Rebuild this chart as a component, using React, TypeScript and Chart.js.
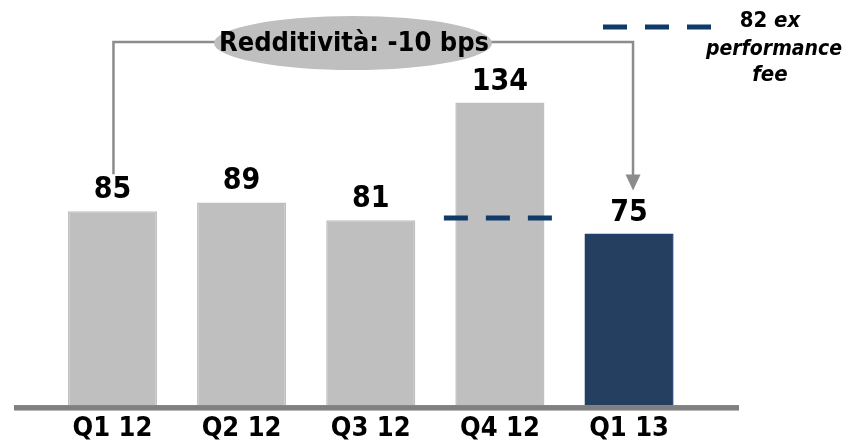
import React, { useEffect, useRef } from "react";
import { Chart, registerables } from "chart.js";

Chart.register(...registerables);

const categories = ["Q1 12", "Q2 12", "Q3 12", "Q4 12", "Q1 13"];
const values = [85, 89, 81, 134, 75];
const barColors = ["#bfbfbf", "#bfbfbf", "#bfbfbf", "#bfbfbf", "#243f60"];
const barBorders = ["#bfbfbf", "#bfbfbf", "#bfbfbf", "#bfbfbf", "#1f3f6e"];
const exPerfFeeValue = 82;
const exPerfFeeIndex = 3;
const bracketText = "Redditività: -10 bps";
const legendNumber = "82";
const legendLines = [" ex", "performance", "fee"];

const Y_MIN = -2.5;
const Y_MAX = 160;
const FONT = "'DejaVu Sans Condensed', 'DejaVu Sans', sans-serif";
const NAVY = "#0f3a69";
const GREY_LINE = "#8c8c8c";

const overlay = {
  id: "overlay",
  afterDatasetsDraw(chart: any) {
    const ctx = chart.ctx as CanvasRenderingContext2D;
    const xs = chart.scales.x;
    const ys = chart.scales.y;
    ctx.save();

    // baseline axis
    const yb = ys.getPixelForValue(Y_MIN);
    ctx.fillStyle = "#808080";
    ctx.fillRect(14, yb - 0.5, 725, 5.5);

    // category labels
    ctx.fillStyle = "#000";
    ctx.textAlign = "center";
    ctx.textBaseline = "alphabetic";
    ctx.font = `bold 27px ${FONT}`;
    categories.forEach((c, i) => {
      ctx.fillText(c, xs.getPixelForValue(i), 436);
    });

    // value labels
    ctx.font = `bold 30px ${FONT}`;
    const labelTops: number[] = [];
    values.forEach((v, i) => {
      const top = ys.getPixelForValue(v);
      ctx.fillText(String(v), xs.getPixelForValue(i), top - 13);
      labelTops.push(top - 13 - 22);
    });

    // dashed ex-performance-fee line on Q4
    const drawDash = (x0: number, x1: number, y: number) => {
      ctx.save();
      ctx.strokeStyle = NAVY;
      ctx.lineWidth = 5;
      ctx.setLineDash([24, 18]);
      ctx.beginPath();
      ctx.moveTo(x0, y);
      ctx.lineTo(x1, y);
      ctx.stroke();
      ctx.restore();
    };
    const cx = xs.getPixelForValue(exPerfFeeIndex);
    drawDash(cx - 56, cx + 52, ys.getPixelForValue(exPerfFeeValue));

    // legend
    drawDash(603, 711, 27);
    ctx.fillStyle = "#000";
    ctx.font = `bold 22px ${FONT}`;
    const wNum = ctx.measureText(legendNumber).width;
    ctx.font = `italic bold 22px ${FONT}`;
    const wEx = ctx.measureText(legendLines[0]).width;
    const lx = 770;
    const startX = lx - (wNum + wEx) / 2;
    ctx.textAlign = "left";
    ctx.font = `bold 22px ${FONT}`;
    ctx.fillText(legendNumber, startX, 27);
    ctx.font = `italic bold 22px ${FONT}`;
    ctx.fillText(legendLines[0], startX + wNum, 27);
    ctx.textAlign = "center";
    ctx.font = `italic bold 21px ${FONT}`;
    ctx.fillText(legendLines[1], lx + 4, 55);
    ctx.font = `italic bold 22px ${FONT}`;
    ctx.fillText(legendLines[2], lx, 81);

    // bracket
    const topY = 42;
    const xl = xs.getPixelForValue(0) + 1;
    const xr = xs.getPixelForValue(values.length - 1) + 4;
    const tip = labelTops[values.length - 1] - 8;
    ctx.strokeStyle = GREY_LINE;
    ctx.lineWidth = 2.5;
    ctx.beginPath();
    ctx.moveTo(xl, labelTops[0] - 2);
    ctx.lineTo(xl, topY);
    ctx.lineTo(xr, topY);
    ctx.lineTo(xr, tip - 14);
    ctx.stroke();
    ctx.fillStyle = GREY_LINE;
    ctx.beginPath();
    ctx.moveTo(xr - 7.5, tip - 16);
    ctx.lineTo(xr + 7.5, tip - 16);
    ctx.lineTo(xr, tip);
    ctx.closePath();
    ctx.fill();

    // ellipse
    ctx.fillStyle = "#bfbfbf";
    ctx.beginPath();
    ctx.ellipse(353, 43, 139, 27, 0, 0, Math.PI * 2);
    ctx.fill();
    ctx.fillStyle = "#000";
    ctx.font = `bold 27px ${FONT}`;
    ctx.textAlign = "center";
    ctx.textBaseline = "middle";
    ctx.fillText(bracketText, 354, 44);

    ctx.restore();
  },
};

export default function App() {
  const ref = useRef<HTMLCanvasElement>(null);
  useEffect(() => {
    if (!ref.current) return;
    const chart = new Chart(ref.current, {
      type: "bar",
      data: {
        labels: categories,
        datasets: [
          {
            data: values,
            backgroundColor: barColors,
            borderColor: barBorders,
            borderWidth: 1.5,
            base: Y_MIN,
            barPercentage: 0.69,
            categoryPercentage: 1,
          } as any,
        ],
      },
      options: {
        animation: false,
        responsive: false,
        maintainAspectRatio: false,
        layout: { padding: { left: 47.9, right: 159.4, top: 44.8, bottom: 42.45 } },
        plugins: { legend: { display: false }, tooltip: { enabled: false } },
        scales: {
          x: { display: false },
          y: { display: false, min: Y_MIN, max: Y_MAX },
        },
      },
      plugins: [overlay],
    });
    return () => chart.destroy();
  }, []);
  return (
    <div style={{ position: "fixed", left: 0, top: 0, width: 853, height: 448, background: "#fff" }}>
      <canvas ref={ref} width={853} height={448} />
    </div>
  );
}
